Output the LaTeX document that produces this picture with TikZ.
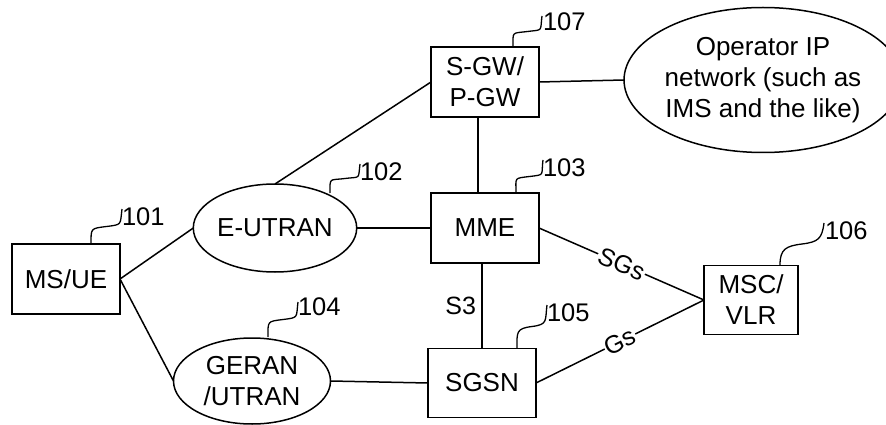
\documentclass[tikz,border=0pt]{standalone}
\usepackage{fontspec}
\setmainfont{Liberation Sans}
\usetikzlibrary{shapes.geometric,calc}
\begin{document}
\begin{tikzpicture}[x=1pt,y=-1pt,
  every node/.style={inner sep=0pt,outer sep=0pt},
  box/.style={draw,line width=1.5pt,rectangle,align=center,font=\fontsize{26}{31}\selectfont},
  oval/.style={draw,line width=1.5pt,ellipse,align=center,font=\fontsize{26}{31}\selectfont},
  conn/.style={line width=1.5pt},
  lead/.style={line width=1.3pt},
  num/.style={anchor=west,font=\fontsize{25.5}{30}\selectfont},
  elab/.style={fill=white,sloped,inner sep=1pt,font=\fontsize{25}{30}\selectfont}]
\useasboundingbox (0,0) rectangle (886,425);
% nodes
\node[box,minimum width=108pt,minimum height=70pt] (msue) at (66,279) {MS/UE};
\node[box,minimum width=108pt,minimum height=70pt] (sgw) at (485,82) {S-GW/\\P-GW};
\node[box,minimum width=108pt,minimum height=70pt] (mme) at (485,228) {MME};
\node[box,minimum width=108pt,minimum height=69pt] (sgsn) at (482,383) {SGSN};
\node[box,minimum width=94pt,minimum height=69pt] (msc) at (751,300) {MSC/\\VLR};
\node[oval,minimum width=157pt,minimum height=88pt] (eutran) at (275,228) {E-UTRAN};
\node[oval,minimum width=157pt,minimum height=86pt] (geran) at (252,381) {GERAN\\/UTRAN};
\node[oval,minimum width=244pt,minimum height=145pt] (ip) at (763,80) {Operator IP\\network (such as\\IMS and the like)};
% connectors
\draw[conn] (msue.east) -- (eutran.west);
\draw[conn] (msue.east) -- (geran.west);
\draw[conn] (eutran.north) -- (sgw.west);
\draw[conn] (eutran.east) -- (mme.west);
\draw[conn] (geran.east) -- (sgsn.west);
\draw[conn] (sgw.east) -- (ip.west);
\draw[conn] ([xshift=-7pt]sgw.south) -- ([xshift=-7pt]mme.north);
\draw[conn] ([xshift=-3pt]mme.south) -- node[left=6pt,font=\fontsize{25}{30}\selectfont] (s3) {S3} (sgsn.north);
\draw[conn] (mme.east) -- node[elab] (sgs) {SGs} (msc.west);
\draw[conn] (sgsn.east) -- node[elab] (gs) {Gs} (msc.west);
% reference numerals and leaders
\coordinate (l101) at (122,209);
\coordinate (l102) at (360,164);
\coordinate (l103) at (543,160);
\coordinate (l104) at (298,302);
\coordinate (l105) at (547,305);
\coordinate (l106) at (824,223);
\coordinate (l107) at (542,16);
\node[num] (n101) at (122,217) {101};
\node[num] (n102) at (360,172) {102};
\node[num] (n103) at (543,168) {103};
\node[num] (n104) at (298,307) {104};
\node[num] (n105) at (547,313) {105};
\node[num] (n106) at (825,231) {106};
\node[num] (n107) at (543,22) {107};
\foreach \s/\e in {{91,244}/l101,{330,193}/l102,{516,193}/l103,{268,337}/l104,{517,348}/l105,{780,265}/l106,{513,47}/l107}{
  \draw[lead] (\s) .. controls ($(\s)+(0,-16)$) and ($($(\s)!0.5!(\e)$)+(-16,2)$) .. ($(\s)!0.5!(\e)$)
     .. controls ($($(\s)!0.5!(\e)$)+(16,-2)$) and ($(\e)+(-2,16)$) .. (\e);
}
\end{tikzpicture}
\end{document}
